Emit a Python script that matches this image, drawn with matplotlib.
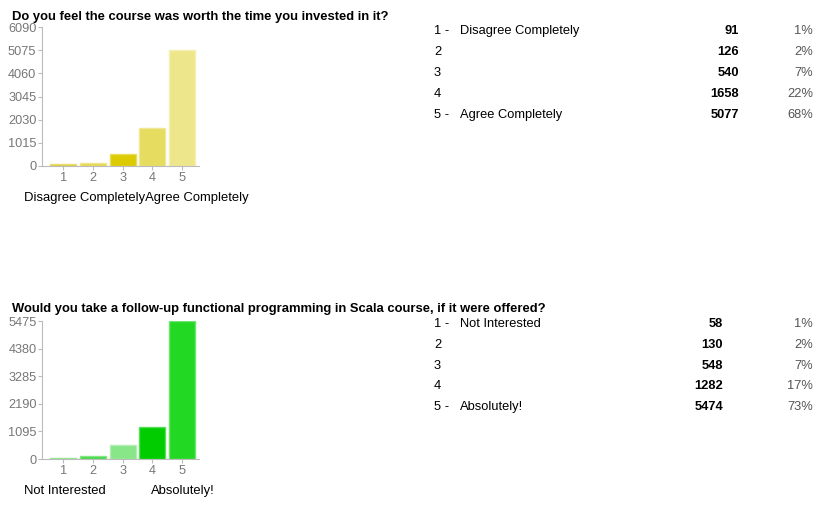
import matplotlib
matplotlib.use("Agg")
import matplotlib.pyplot as plt
import matplotlib.colors as mcolors

plt.rcParams["font.family"] = ["Liberation Sans", "DejaVu Sans"]

W, H = 836, 518

# data
categories = [1, 2, 3, 4, 5]

q1_title = "Do you feel the course was worth the time you invested in it?"
q1_counts = [91, 126, 540, 1658, 5077]
q1_pcts = ["1%", "2%", "7%", "22%", "68%"]
q1_labels = ["Disagree Completely", "", "", "", "Agree Completely"]
q1_ticks = [0, 1015, 2030, 3045, 4060, 5075, 6090]
q1_colors = ["#dccb26", "#e5d84c", "#dccb00", "#e6dc60", "#eee68a"]

q2_title = "Would you take a follow-up functional programming in Scala course, if it were offered?"
q2_counts = [58, 130, 548, 1282, 5474]
q2_pcts = ["1%", "2%", "7%", "17%", "73%"]
q2_labels = ["Not Interested", "", "", "", "Absolutely!"]
q2_ticks = [0, 1095, 2190, 3285, 4380, 5475]
q2_colors = ["#55dd55", "#44d844", "#88e588", "#00cc00", "#22d822"]

fig = plt.figure(figsize=(W / 100, H / 100), dpi=100)


def px(x, y):
    return x / W, 1 - y / H


def lighter(c, amt=0.35):
    r, g, b = mcolors.to_rgb(c)
    return (r + (1 - r) * amt, g + (1 - g) * amt, b + (1 - b) * amt)


def drawQuestion(title, counts, pcts, labels, ticks, colors, top, bottom, titleY, rowY, countX, footText):
    left, right = 42, 199
    ax = fig.add_axes([left / W, 1 - bottom / H, (right - left) / W, (bottom - top) / H])
    ax.bar(categories, counts, width=0.87, color=colors,
           edgecolor=[lighter(c) for c in colors], linewidth=1.0)
    ax.set_xlim(0.29, 5.57)
    ax.set_ylim(0, ticks[-1])
    ax.set_yticks(ticks)
    ax.set_xticks(categories)
    for s in ["top", "right"]:
        ax.spines[s].set_visible(False)
    ax.spines["left"].set_color("#bbbbbb")
    ax.spines["bottom"].set_color("#bbbbbb")
    ax.tick_params(colors="#bbbbbb", labelcolor="#777777", labelsize=9.2, length=3, pad=1)

    fig.text(*px(12, titleY), title, fontsize=9.4, fontweight="bold", va="center", ha="left")
    for x, y, t in footText:
        fig.text(*px(x, y), t, fontsize=9.4, va="center", ha="left")

    for i, c in enumerate(categories):
        y = rowY[i]
        prefix = str(c) + " -" if labels[i] else str(c)
        fig.text(*px(434, y), prefix, fontsize=9.3, va="center", ha="left")
        if labels[i]:
            fig.text(*px(460, y), labels[i], fontsize=9.3, va="center", ha="left")
        fig.text(*px(countX, y), str(counts[i]), fontsize=9.3, fontweight="bold", va="center", ha="right")
        fig.text(*px(813, y), pcts[i], fontsize=9.3, color="#555555", va="center", ha="right")


drawQuestion(q1_title, q1_counts, q1_pcts, q1_labels, q1_ticks, q1_colors,
             top=27, bottom=166, titleY=17, rowY=[31, 52, 73, 94, 115], countX=739,
             footText=[(24, 198, "Disagree CompletelyAgree Completely")])

drawQuestion(q2_title, q2_counts, q2_pcts, q2_labels, q2_ticks, q2_colors,
             top=321, bottom=459, titleY=309, rowY=[324, 345, 366, 386, 407], countX=723,
             footText=[(24, 491, "Not Interested"), (151, 491, "Absolutely!")])

fig.savefig("out.png", dpi=100)
